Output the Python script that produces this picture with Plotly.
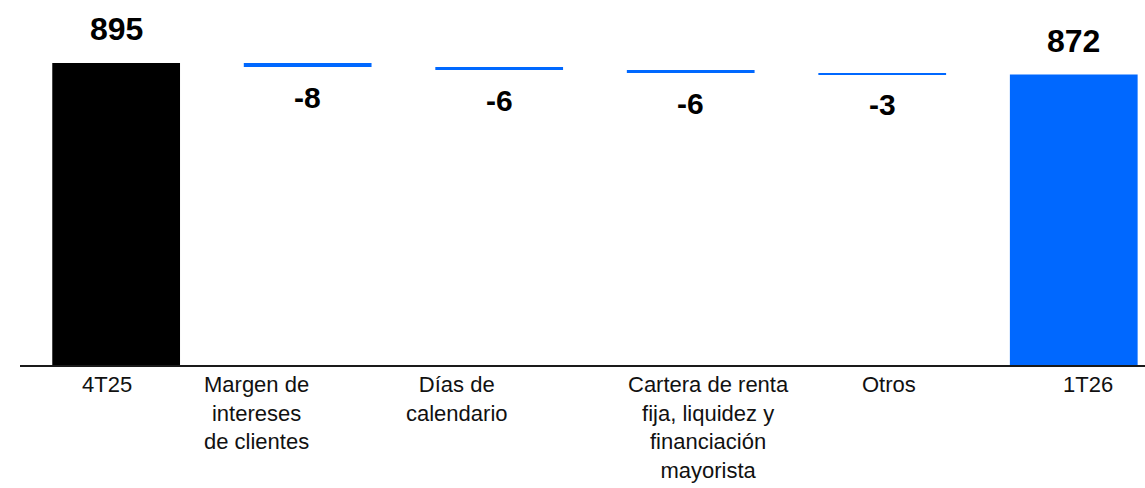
import plotly.graph_objects as go

categories = ["4T25", "Margen de<br>intereses<br>de clientes", "Días de<br>calendario",
              "Cartera de renta<br>fija, liquidez y<br>financiación<br>mayorista", "Otros", "1T26"]
start_value = 895
deltas = [-8, -6, -6, -3]
end_value = 872

# derived bar geometry from the data
levels = []
run = start_value
for d in deltas:
    run += d
    levels.append(run)

heights = [start_value] + [abs(d) for d in deltas] + [end_value]
bases = [0] + levels + [0]
labels = [str(start_value)] + [str(d) for d in deltas] + [str(end_value)]
colors = ["#000000", "#0068FF", "#0068FF", "#0068FF", "#0068FF", "#0068FF"]

xpos = list(range(len(categories)))

fig = go.Figure()
fig.add_trace(go.Bar(
    x=xpos, y=heights, base=bases, width=0.667,
    marker=dict(color=colors, line=dict(width=0)),
    hoverinfo="skip", showlegend=False,
))

FONT = "Arial, Liberation Sans, sans-serif"
annotations = []
# value labels
for i, (h, b, t) in enumerate(zip(heights, bases, labels)):
    if i == 0 or i == len(heights) - 1:
        annotations.append(dict(x=xpos[i], y=b + h, text=f"<b>{t}</b>", showarrow=False,
                                yanchor="middle", yshift=34,
                                font=dict(family=FONT, size=32, color="#000000")))
    else:
        annotations.append(dict(x=xpos[i], y=b, text=f"<b>{t}</b>", showarrow=False,
                                yanchor="middle", yshift=-30,
                                font=dict(family=FONT, size=30, color="#000000")))

# category labels (separate text boxes, slightly offset as in the source)
label_xshift = [-9, -51, -42, 18, 7, 14]
for i, c in enumerate(categories):
    annotations.append(dict(x=xpos[i], y=0, yref="paper", text=c, showarrow=False,
                            yanchor="top", xshift=label_xshift[i], yshift=-5, align="center",
                            font=dict(family=FONT, size=22, color="#111111")))

fig.update_layout(
    width=1145, height=488,
    margin=dict(l=20, r=0, t=0, b=123),
    paper_bgcolor="white", plot_bgcolor="white",
    annotations=annotations,
    xaxis=dict(range=[-0.502, 5.372], showticklabels=False, showgrid=False, zeroline=False,
               showline=True, linecolor="#1a1a1a", linewidth=2, ticks=""),
    yaxis=dict(range=[300, 1019], visible=False, showgrid=False, zeroline=False),
)

fig.write_html("out.html")
